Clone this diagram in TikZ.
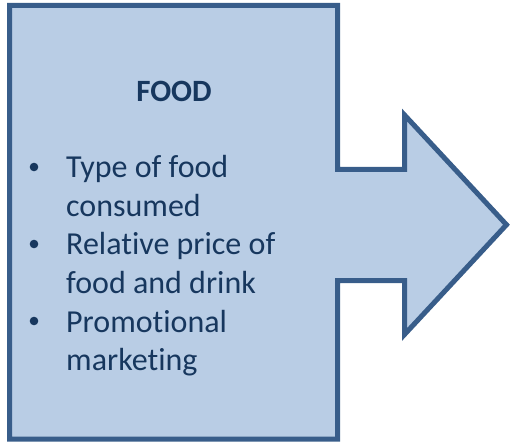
\documentclass[tikz,border=0pt]{standalone}
\usepackage{fontspec}
\setmainfont{Carlito}[Ligatures={NoCommon,NoContextual}]
\usetikzlibrary{positioning}

\definecolor{boxfill}{HTML}{B9CDE5}
\definecolor{boxline}{HTML}{385D8A}
\definecolor{textblue}{HTML}{17375E}

\tikzset{
  txt/.style={text=textblue, inner sep=0pt, anchor=base west,
    font=\fontsize{32bp}{38.5bp}\selectfont},
  dot/.style={fill=textblue}
}

\begin{document}
\begin{tikzpicture}[x=1bp,y=-1bp]
\useasboundingbox (0,0) rectangle (512,443);

% box with the arrow on its right side
\draw[boxline, fill=boxfill, line width=5bp, line join=miter]
  (9.5,5.5) -- (337.5,5.5) -- (337.5,169.5) -- (404.5,169.5) -- (404.5,115)
  -- (506.5,224.75) -- (404.5,334.5) -- (404.5,280.5) -- (337.5,280.5)
  -- (337.5,439) -- (9.5,439) -- cycle;

\node[txt, anchor=base, font=\bfseries\fontsize{31bp}{37bp}\selectfont] (title) at (174,101.5) {FOOD};

\node[txt] (type) at (66,178) {Type of food};
\node[txt] (consumed) at (66,216.5) {consumed};
\node[txt] (price) at (66,255) {Relative price of};
\node[txt] (drink) at (66,293.5) {food and drink};
\node[txt] (promo) at (66,332) {Promotional};
\node[txt] (marketing) at (66,370.5) {marketing};

% bullets
\fill[dot] (34,167) circle (4.3);
\fill[dot] (34,244) circle (4.3);
\fill[dot] (34,321) circle (4.3);
\end{tikzpicture}
\end{document}
